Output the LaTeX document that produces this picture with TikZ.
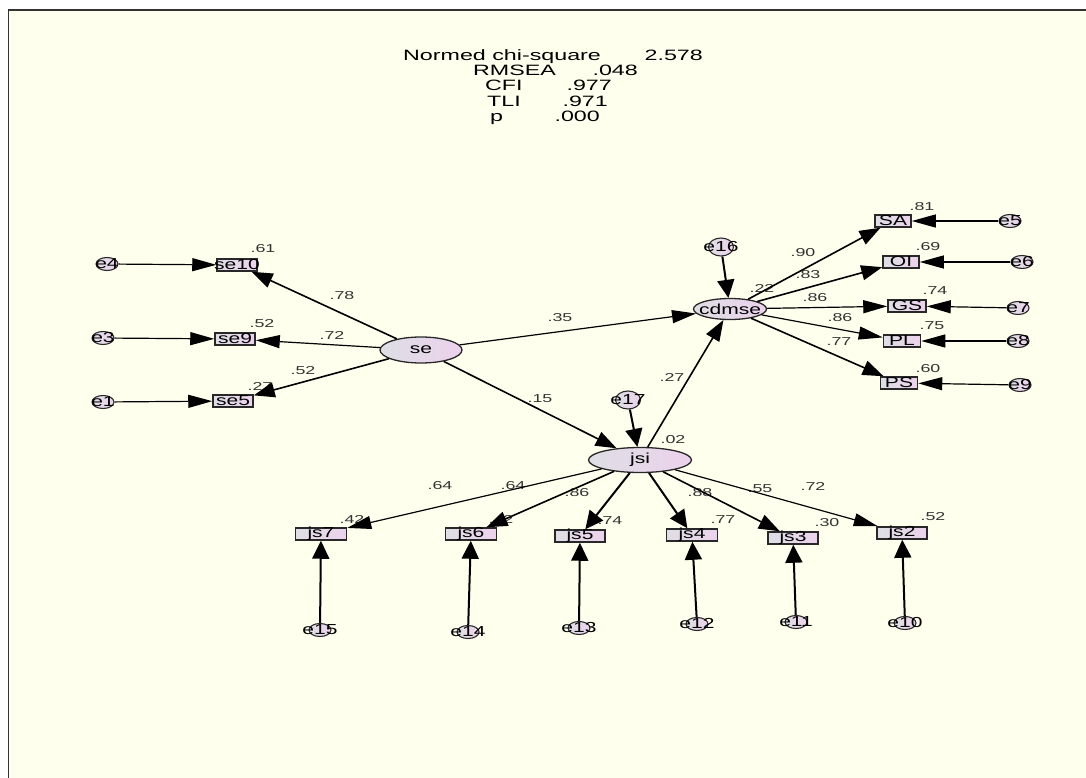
\documentclass[tikz,border=0pt]{standalone}
\usepackage{fontspec}
\setmainfont{Liberation Sans}[FakeStretch=1.55]
\newfontfamily\nf{Liberation Sans}[FakeStretch=1.45]
\usetikzlibrary{arrows.meta,shapes.geometric}
\definecolor{cream}{RGB}{255,255,238}
\definecolor{fillL}{RGB}{222,222,228}
\definecolor{fillR}{RGB}{236,210,236}
\definecolor{edgegray}{RGB}{40,40,40}
\tikzset{
 lat/.style={ellipse, draw=edgegray, line width=1.3pt, left color=fillL, right color=fillR, inner sep=0pt},
 obs/.style={rectangle, draw=edgegray, line width=1.5pt, left color=fillL, right color=fillR, inner sep=0pt, minimum height=12pt},
 err/.style={ellipse, draw=edgegray, line width=1.1pt, left color=fillL, right color=fillR, inner sep=0pt, minimum width=22pt, minimum height=13pt},
 ntext/.style={font=\nf\fontsize{14.5}{14.5}\selectfont, inner sep=0pt},
 lab/.style={font=\fontsize{11.5}{11.5}\selectfont, text=black!80, inner sep=0pt},
 fittext/.style={font=\fontsize{15}{15}\selectfont, inner sep=0pt, text height=10pt, text depth=2pt},
 harr/.style={-{Triangle[length=24pt,width=13pt]}, line width=1.2pt},
 varr/.style={-{Triangle[length=18pt,width=17pt]}, line width=2pt},
 darr/.style={-{Triangle[length=21pt,width=15pt]}, line width=1.6pt},
}
\begin{document}
\begin{tikzpicture}[x=1pt,y=-1pt]
\useasboundingbox (0,0) rectangle (1086,778);
\fill[white] (0,0) rectangle (1086,778);
\fill[cream] (8.5,10) rectangle (1086,778);
\draw[line width=1.3pt, black!80] (8.5,778) -- (8.5,10) -- (1086,10);

% fit statistics
\node[fittext, anchor=west] (f1a) at (403,57) {Normed chi-square};
\node[fittext, anchor=east] (f1b) at (703,57) {2.578};
\node[fittext, anchor=west] (f2a) at (473,72) {RMSEA};
\node[fittext, anchor=east] (f2b) at (638,72) {.048};
\node[fittext, anchor=west] (f3a) at (485,87) {CFI};
\node[fittext, anchor=east] (f3b) at (612,87) {.977};
\node[fittext, anchor=west] (f4a) at (487,103) {TLI};
\node[fittext, anchor=east] (f4b) at (608,103) {.971};
\node[fittext, anchor=west] (f5a) at (490,118) {p};
\node[fittext, anchor=east] (f5b) at (600,118) {.000};

% labels (drawn first so arrowheads lie over them)
\node[lab] (l1) at (263,249) {.61};
\node[lab] (l2) at (262,324) {.52};
\node[lab] (l3) at (260,386) {.27};
\node[lab] (l4) at (342,296) {.78};
\node[lab] (l5) at (332,335) {.72};
\node[lab] (l6) at (303,371) {.52};
\node[lab] (l7) at (560,318) {.35};
\node[lab] (l8) at (540,399) {.15};
\node[lab] (l9) at (672,377) {.27};
\node[lab] (l10) at (673,440) {.02};
\node[lab] (l11) at (922,207) {.81};
\node[lab] (l12) at (928,247) {.69};
\node[lab] (l13) at (935,291) {.74};
\node[lab] (l14) at (932,326) {.75};
\node[lab] (l15) at (928,369) {.60};
\node[lab] (l16) at (803,253) {.90};
\node[lab] (l17) at (808,275) {.83};
\node[lab] (l18) at (762,288) {.22};
\node[lab] (l19) at (815,298) {.86};
\node[lab] (l20) at (840,318) {.86};
\node[lab] (l21) at (839,342) {.77};
\node[lab] (l22) at (352,519) {.42};
\node[lab] (l23) at (501,519) {.42};
\node[lab] (l24) at (610,521) {.74};
\node[lab] (l25) at (723,520) {.77};
\node[lab] (l26) at (827,523) {.30};
\node[lab] (l27) at (933,517) {.52};
\node[lab] (l28) at (440,486) {.64};
\node[lab] (l29) at (513,486) {.64};
\node[lab] (l30) at (577,493) {.86};
\node[lab] (l31) at (700,493) {.88};
\node[lab] (l32) at (760,489) {.55};
\node[lab] (l33) at (813,486) {.72};

% latent variables
\node[lat, minimum width=82pt, minimum height=26pt, label={[ntext]center:se}] (se) at (421,350) {};
\node[lat, minimum width=73pt, minimum height=21pt, label={[ntext]center:cdmse}] (cdmse) at (730,309) {};
\node[lat, minimum width=103pt, minimum height=25pt, label={[ntext]center:jsi}] (jsi) at (640,460) {};

% disturbance terms
\node[err, minimum width=25pt, minimum height=18pt, label={[ntext]center:e16}] (e16) at (721,247) {};
\node[err, minimum width=25pt, minimum height=18pt, label={[ntext]center:e17}] (e17) at (628,400) {};

% observed: se
\node[obs, minimum width=40pt, label={[ntext]center:se10}] (se10) at (237,265) {};
\node[obs, minimum width=40pt, label={[ntext]center:se9}] (se9) at (235,339) {};
\node[obs, minimum width=40pt, label={[ntext]center:se5}] (se5) at (233,401) {};
\node[err, label={[ntext]center:e4}] (e4) at (107,264) {};
\node[err, label={[ntext]center:e3}] (e3) at (103,338) {};
\node[err, label={[ntext]center:e1}] (e1) at (103,402) {};

% observed: cdmse
\node[obs, minimum width=36pt, label={[ntext]center:SA}] (SA) at (893,221) {};
\node[obs, minimum width=36pt, label={[ntext]center:OI}] (OI) at (901,262) {};
\node[obs, minimum width=38pt, label={[ntext]center:GS}] (GS) at (907,306) {};
\node[obs, minimum width=37pt, label={[ntext]center:PL}] (PL) at (902,341) {};
\node[obs, minimum width=37pt, label={[ntext]center:PS}] (PS) at (899,383) {};
\node[err, label={[ntext]center:e5}] (e5) at (1010,221) {};
\node[err, label={[ntext]center:e6}] (e6) at (1022,262) {};
\node[err, label={[ntext]center:e7}] (e7) at (1018,308) {};
\node[err, label={[ntext]center:e8}] (e8) at (1018,341) {};
\node[err, label={[ntext]center:e9}] (e9) at (1020,385) {};

% observed: jsi
\node[obs, minimum width=51pt, label={[ntext]center:js7}] (js7) at (321,534) {};
\node[obs, minimum width=51pt, label={[ntext]center:js6}] (js6) at (471,534) {};
\node[obs, minimum width=50pt, label={[ntext]center:js5}] (js5) at (580,536) {};
\node[obs, minimum width=51pt, label={[ntext]center:js4}] (js4) at (692,535) {};
\node[obs, minimum width=50pt, label={[ntext]center:js3}] (js3) at (793,538) {};
\node[obs, minimum width=50pt, label={[ntext]center:js2}] (js2) at (902,533) {};
\node[err, label={[ntext]center:e15}] (e15) at (320,630) {};
\node[err, label={[ntext]center:e14}] (e14) at (468,632) {};
\node[err, label={[ntext]center:e13}] (e13) at (579,628) {};
\node[err, label={[ntext]center:e12}] (e12) at (697,624) {};
\node[err, label={[ntext]center:e11}] (e11) at (796,622) {};
\node[err, label={[ntext]center:e10}] (e10) at (905,623) {};

% structural paths
\draw[harr] (se) -- (cdmse);
\draw[darr] (se) -- (jsi);
\draw[darr] (jsi) -- (cdmse);
\draw[varr] (e16) -- (cdmse);
\draw[varr] (e17) -- (jsi);

% se measurement
\draw[darr] (se) -- (se10);
\draw[harr] (se) -- (se9);
\draw[darr] (se) -- (se5);
\draw[harr] (e4) -- (se10);
\draw[harr] (e3) -- (se9);
\draw[harr] (e1) -- (se5);

% cdmse measurement
\draw[darr] (cdmse) -- (SA);
\draw[darr] (cdmse) -- (OI);
\draw[harr] (cdmse) -- (GS);
\draw[harr] (cdmse) -- (PL);
\draw[darr] (cdmse) -- (PS);
\draw[harr] (e5) -- (SA);
\draw[harr] (e6) -- (OI);
\draw[harr] (e7) -- (GS);
\draw[harr] (e8) -- (PL);
\draw[harr] (e9) -- (PS);

% jsi measurement
\draw[harr] (jsi) -- (js7);
\draw[darr] (jsi) -- (js6);
\draw[varr] (jsi) -- (js5);
\draw[varr] (jsi) -- (js4);
\draw[darr] (jsi) -- (js3);
\draw[harr] (jsi) -- (js2);
\draw[varr] (e15) -- (js7);
\draw[varr] (e14) -- (js6);
\draw[varr] (e13) -- (js5);
\draw[varr] (e12) -- (js4);
\draw[varr] (e11) -- (js3);
\draw[varr] (e10) -- (js2);
\end{tikzpicture}
\end{document}
